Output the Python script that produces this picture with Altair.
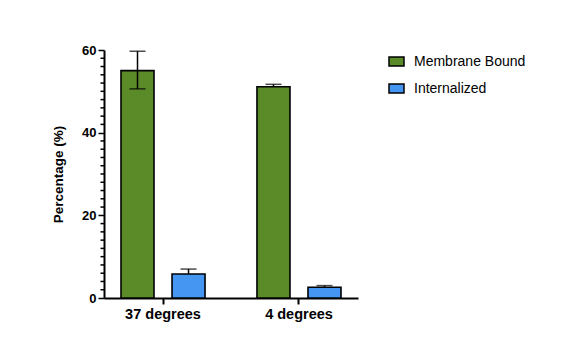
import altair as alt
import pandas as pd

conditions = ["37 degrees", "37 degrees", "4 degrees", "4 degrees"]
groups = ["Membrane Bound", "Internalized", "Membrane Bound", "Internalized"]
means = [55.0, 5.8, 51.1, 2.6]
err_low = [50.6, 5.8, 51.1, 2.6]
err_high = [59.7, 7.0, 51.7, 3.0]

series_order = ["Membrane Bound", "Internalized"]
series_colors = ["#5A8B28", "#4596F2"]
major_ticks = [0, 20, 40, 60]
minor_ticks = [v for v in range(0, 61, 2) if v % 20 != 0]

df = pd.DataFrame({"cond": conditions, "group": groups, "mean": means,
                   "lo": err_low, "hi": err_high})
minor_df = pd.DataFrame({"v": minor_ticks})

FONT = "Liberation Sans"

xenc = alt.X("cond:N", sort=["37 degrees", "4 degrees"],
             scale=alt.Scale(paddingInner=0.382, paddingOuter=0.125),
             axis=alt.Axis(title=None, labelAngle=0, labelFont=FONT, labelFontSize=14.5,
                           labelFontWeight="bold", labelColor="black", domainColor="black",
                           domainWidth=2, tickColor="black", tickWidth=2, tickSize=6,
                           labelPadding=3))
xoff = alt.XOffset("group:N", sort=series_order,
                   scale=alt.Scale(paddingInner=0.353, paddingOuter=0))
yscale = alt.Scale(domain=[0, 60], nice=False)

bars = alt.Chart(df).mark_bar(stroke="black", strokeWidth=1.6).encode(
    x=xenc, xOffset=xoff,
    y=alt.Y("mean:Q", scale=yscale,
            axis=alt.Axis(values=major_ticks, title="Percentage (%)", titleFont=FONT,
                          titleFontSize=13.5, titleFontWeight="bold", titleColor="black",
                          titlePadding=16, labelFont=FONT, labelFontSize=13,
                          labelFontWeight="bold", labelColor="black", domainColor="black",
                          domainWidth=2, tickColor="black", tickWidth=1.5, tickSize=6,
                          labelPadding=2, grid=False)),
    color=alt.Color("group:N", sort=series_order,
                    scale=alt.Scale(domain=series_order, range=series_colors),
                    legend=alt.Legend(title=None, orient="none", legendX=284, legendY=3,
                                      symbolType="M-1,-0.6H1V0.6H-1Z", symbolSize=225,
                                      symbolStrokeColor="black", symbolStrokeWidth=1.5,
                                      labelFont=FONT, labelFontSize=14, labelColor="black",
                                      labelOffset=9, rowPadding=11, padding=0)),
)

err = alt.Chart(df).mark_rule(color="black", strokeWidth=1.5).encode(
    x=alt.X("cond:N", sort=["37 degrees", "4 degrees"]), xOffset=xoff,
    y=alt.Y("lo:Q", scale=yscale), y2="hi:Q")
cap_hi = alt.Chart(df).mark_tick(color="black", thickness=1.5, size=16).encode(
    x=alt.X("cond:N", sort=["37 degrees", "4 degrees"]), xOffset=xoff,
    y=alt.Y("hi:Q", scale=yscale))
cap_lo = alt.Chart(df[df["lo"] < df["mean"]]).mark_tick(color="black", thickness=1.5, size=16).encode(
    x=alt.X("cond:N", sort=["37 degrees", "4 degrees"]), xOffset=xoff,
    y=alt.Y("lo:Q", scale=yscale))
minor = alt.Chart(minor_df).mark_rule(color="black", strokeWidth=1.5).encode(
    y=alt.Y("v:Q", scale=yscale), x=alt.value(-3.5), x2=alt.value(0))

chart = alt.layer(bars, err, cap_hi, cap_lo, minor).properties(
    width=254, height=248,
    autosize=alt.AutoSizeParams(type="none"),
    padding={"left": 104, "top": 50, "right": 204, "bottom": 39},
).configure(background="white").configure_view(stroke=None, strokeWidth=0)

chart.save("out.html", embed_options={"renderer": "svg", "actions": False})
